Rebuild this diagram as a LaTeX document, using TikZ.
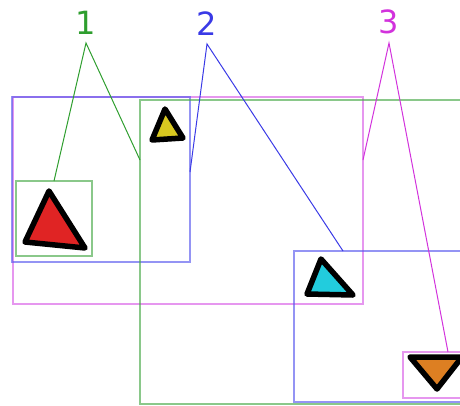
\documentclass[tikz,border=0pt]{standalone}
\usepackage{fontspec}
\setmainfont{DejaVu Sans}
\usetikzlibrary{calc}
\definecolor{cgreen}{HTML}{2E9E2E}
\definecolor{cblue}{HTML}{3A3AE6}
\definecolor{cmagenta}{HTML}{D232DC}
\definecolor{boxgreen}{HTML}{4CAA4C}
\definecolor{boxblue}{HTML}{5A5AEE}
\definecolor{boxmagenta}{HTML}{D860E6}
\definecolor{tred}{HTML}{E02424}
\definecolor{tyellow}{HTML}{D8C820}
\definecolor{tcyan}{HTML}{22CCDD}
\definecolor{torange}{HTML}{DD7F22}
\begin{document}
\begin{tikzpicture}[x=1pt, y=-1pt,
  box/.style={draw, line width=2.3pt, draw opacity=0.65, inner sep=0pt, outer sep=0pt},
  tag/.style={anchor=south, inner sep=0pt, outer sep=9pt, font=\fontsize{32}{32}\selectfont},
  link/.style={line width=1pt},
  tri/.style={draw=black, line width=5.5pt, line join=round}
]
  \useasboundingbox (0,0) rectangle (460,405);
  \clip (0,0) rectangle (460,405);

  % Boxes
  \node[box, draw=boxmagenta, minimum width=350pt, minimum height=207pt] (mbig) at (188,200.5) {};
  \node[box, draw=boxblue, minimum width=178pt, minimum height=165pt] (bsmall) at (101,179.5) {};
  \node[box, draw=boxgreen, minimum width=76pt, minimum height=75pt] (gsmall) at (54,218.5) {};
  \node[box, draw=boxgreen, minimum width=330pt, minimum height=304pt] (gbig) at (305,252) {};
  \node[box, draw=boxblue, minimum width=176pt, minimum height=151pt] (bbig) at (382,326.5) {};
  \node[box, draw=boxmagenta, minimum width=67pt, minimum height=46pt] (msmall) at (436.5,375) {};

  % Triangles
  \draw[tri, fill=tred] (49,191) -- (25,242) -- (85,248) -- cycle;
  \draw[tri, fill=tyellow] (165,109) -- (152,140) -- (183,138) -- cycle;
  \draw[tri, fill=tcyan] (321,259) -- (307,294) -- (353,295) -- cycle;
  \draw[tri, fill=torange] (410,357) -- (462,357) -- (437,389) -- cycle;

  % Labels
  \node[tag, text=cgreen] (l1) at (86,43) {1};
  \node[tag, text=cblue] (l2) at (207,44) {2};
  \node[tag, text=cmagenta] (l3) at (389,43) {3};

  % Connectors
  \draw[link, cgreen] (gsmall.north) -- (l1.south) -- (gbig.west |- 0,160);
  \draw[link, cblue] (bsmall.east |- 0,172) -- (l2.south) -- (bbig.north -| 343,0);
  \draw[link, cmagenta] (mbig.east |- 0,160) -- (l3.south) -- (msmall.north -| 448,0);
\end{tikzpicture}
\end{document}
